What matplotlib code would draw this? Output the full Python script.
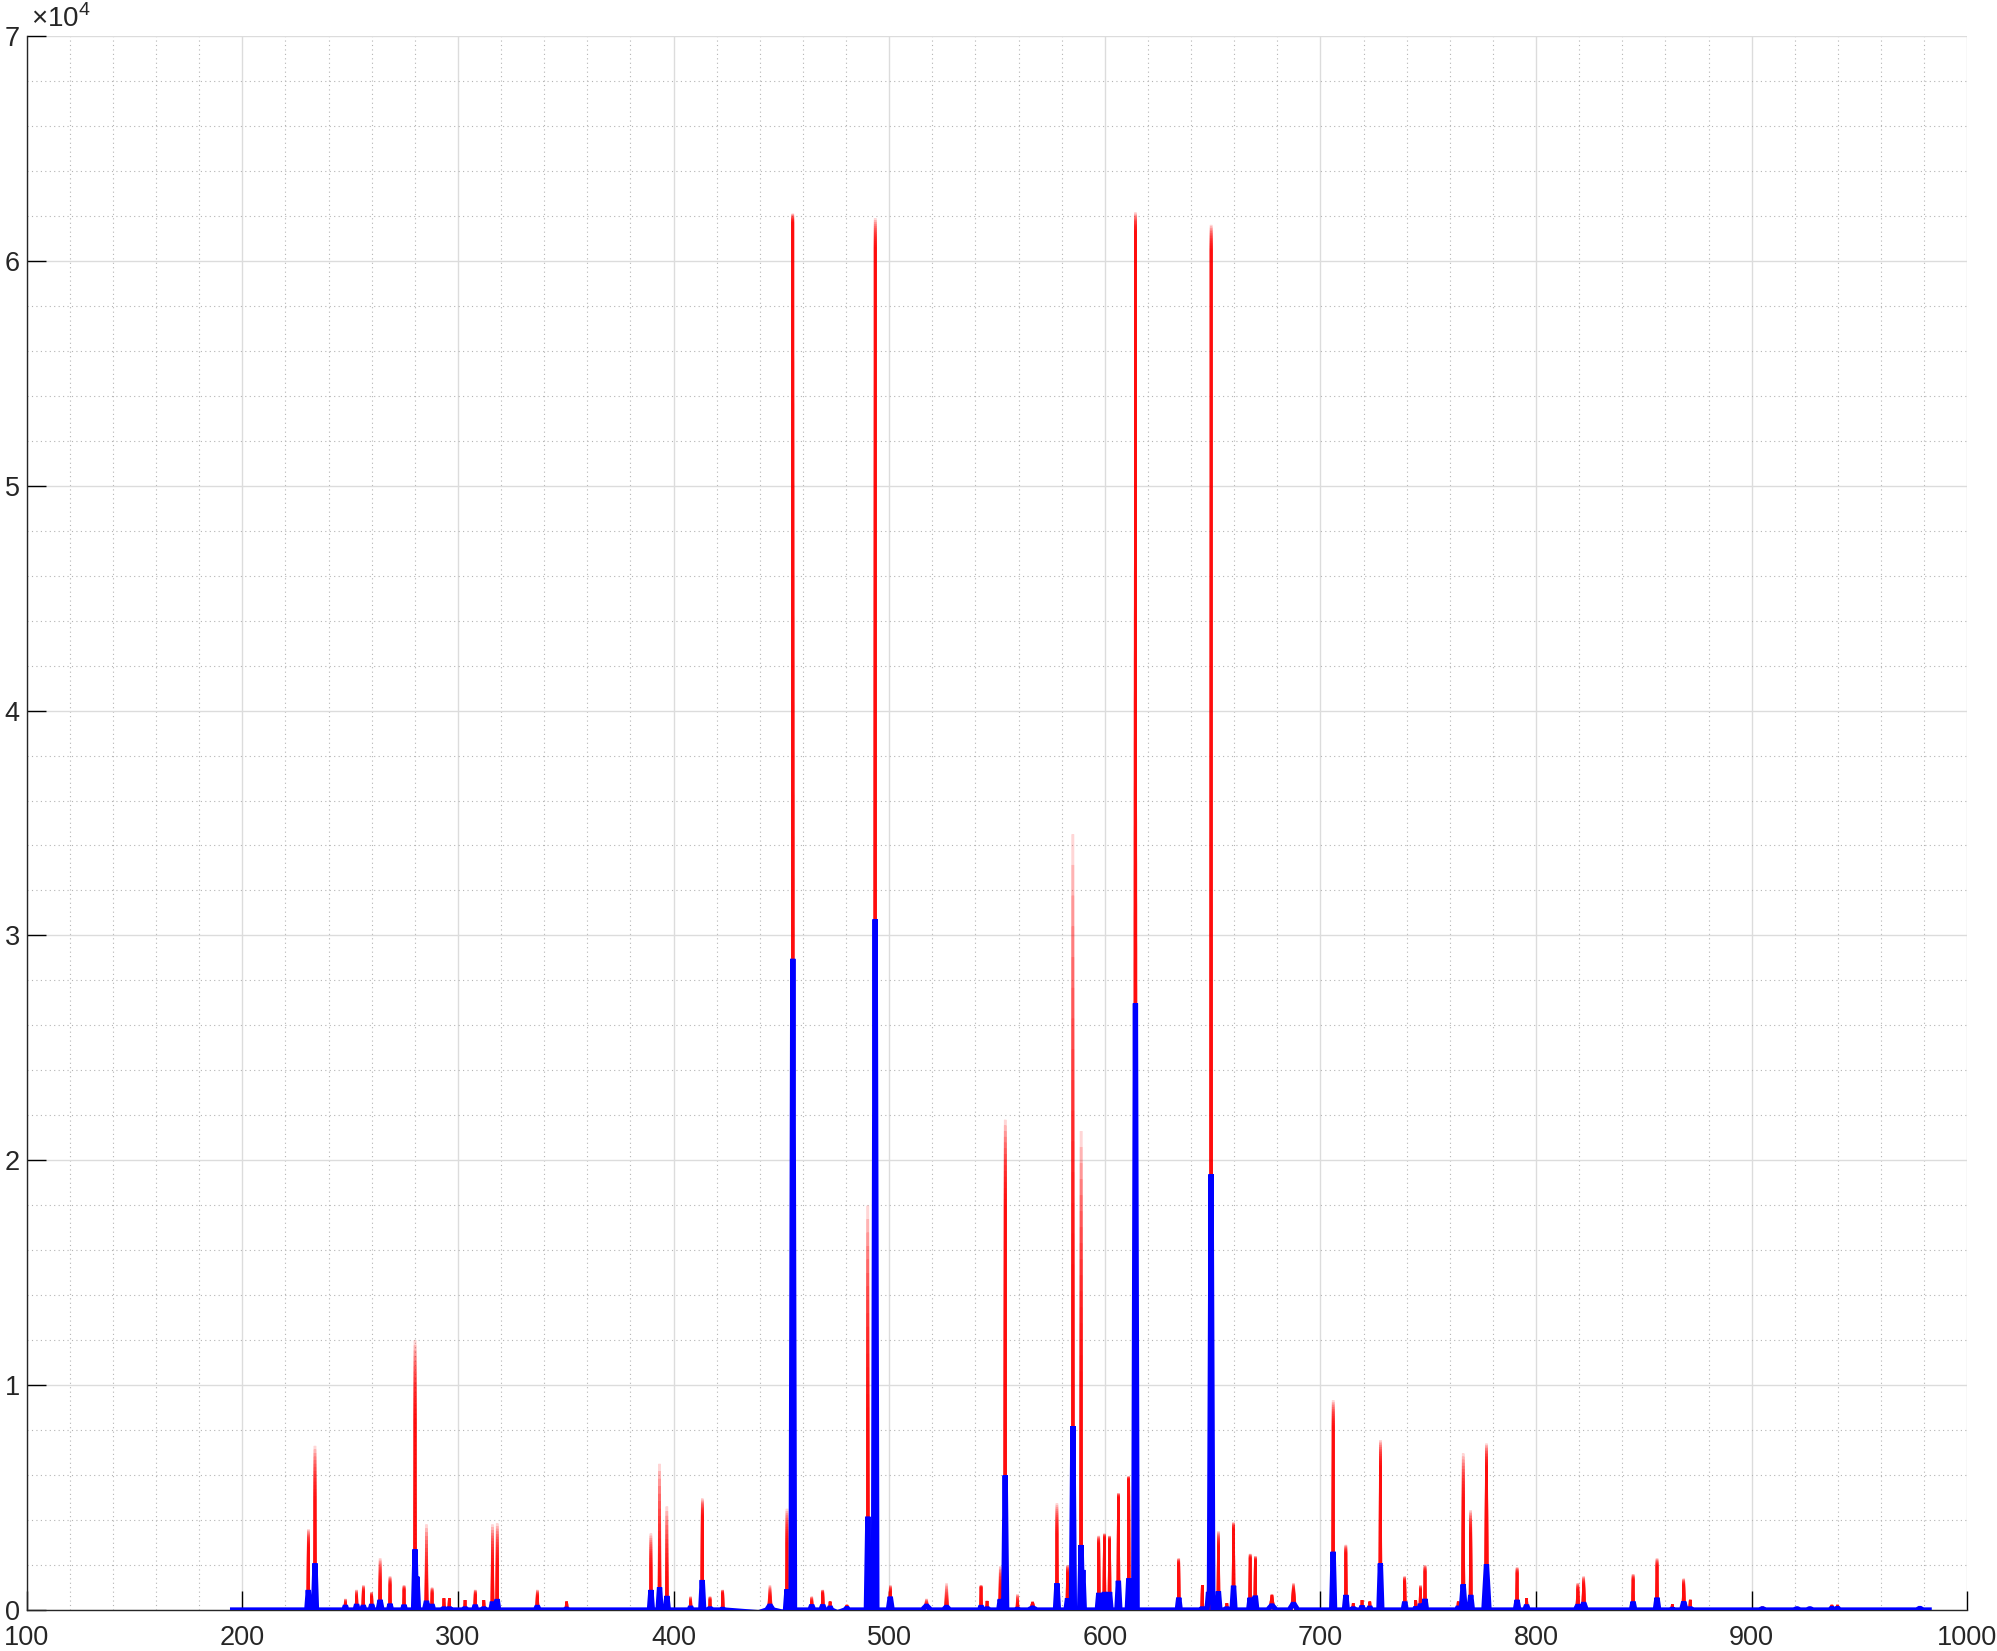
# Emission spectrum overlay: many shots (red) and the averaged spectrum (blue)
import numpy as np
import matplotlib
matplotlib.use('Agg')
import matplotlib.pyplot as plt
from matplotlib.ticker import MultipleLocator, FuncFormatter

plt.rcParams['font.family'] = ['Liberation Sans', 'DejaVu Sans']
plt.rcParams['mathtext.fontset'] = 'custom'
plt.rcParams['mathtext.rm'] = 'Liberation Sans'

# wavelength range covered by the spectrometer (nm)
wl_start = 195.5
wl_end = 982.3

# peak list: position (nm), averaged height, red band (solid part / faint tip), half-width (nm)
peak_nm = [230.6, 233.7, 247.8, 253.0, 256.1, 260.0, 263.9, 268.5, 275.0, 280.1,
           281.0, 285.4, 288.0, 293.5, 296.0, 303.3, 308.0, 312.0, 316.0, 318.2,
           336.8, 350.4, 389.5, 393.5, 396.9, 407.9, 413.3, 416.9, 422.8, 444.7,
           452.6, 455.3, 464.1, 469.2, 472.6, 480.4, 490.1, 493.5, 500.5, 517.3,
           526.6, 542.6, 545.4, 551.5, 553.8, 559.5, 566.5, 577.8, 582.7, 585.2,
           589.0, 589.8, 597.2, 599.8, 602.2, 606.3, 611.1, 614.2, 634.3, 645.2,
           648.1, 649.3, 652.7, 656.6, 659.7, 667.4, 669.8, 677.5, 687.5, 705.9,
           711.8, 715.2, 719.3, 722.9, 727.8, 739.1, 744.2, 746.4, 748.5, 763.9,
           766.2, 769.7, 777.0, 791.2, 795.6, 819.4, 822.1, 845.0, 856.1, 863.2,
           868.5, 871.5, 905.0, 921.0, 927.0, 937.2, 939.8, 978.0]
blue_peak = [889, 2074, 200, 250, 200, 250, 444, 270, 220, 2696,
             1481, 400, 250, 100, 100, 100, 222, 100, 370, 480,
             180, 50, 889, 1007, 622, 150, 1333, 100, 50, 220,
             919, 28960, 220, 220, 150, 100, 4150, 30720, 590, 200,
             150, 190, 100, 480, 5990, 50, 100, 1185, 519, 8180,
             2890, 1780, 760, 800, 800, 1300, 1400, 26980, 550, 100,
             800, 19380, 830, 100, 1081, 548, 637, 220, 300, 2590,
             667, 100, 180, 150, 2070, 370, 120, 270, 490, 150,
             1140, 667, 2030, 444, 220, 220, 326, 370, 548, 50,
             370, 100, 60, 60, 60, 100, 100, 80]
red_low = [2800, 4900, 300, 590, 810, 590, 1300, 1110, 890, 8500,
           1481, 1185, 740, 520, 520, 440, 670, 440, 1930, 2070,
           590, 370, 1930, 1500, 1500, 370, 4150, 440, 740, 590,
           3000, 61700, 370, 740, 370, 220, 9000, 60600, 820, 220,
           200, 1000, 400, 1000, 18000, 300, 350, 3400, 1630, 14000,
           10600, 1780, 2960, 3200, 3100, 5000, 5800, 61300, 2070, 1110,
           1500, 60500, 2810, 300, 3600, 2300, 2190, 670, 890, 8150,
           2520, 300, 440, 370, 6370, 1260, 440, 890, 1700, 370,
           4890, 3400, 6370, 1630, 520, 890, 1110, 1333, 1926, 250,
           1100, 450, 120, 100, 100, 220, 220, 80]
red_high = [3600, 7300, 500, 900, 1100, 800, 2300, 1500, 1100, 12000,
            1481, 3800, 1000, 520, 520, 440, 900, 440, 3800, 3850,
            900, 370, 3400, 6500, 4600, 600, 4960, 600, 900, 1110,
            4500, 62100, 600, 900, 370, 220, 17980, 61900, 1100, 500,
            1200, 1100, 400, 1950, 21800, 700, 350, 4740, 2000, 34500,
            21300, 1780, 3300, 3400, 3300, 5200, 5950, 62150, 2300, 1110,
            2000, 61600, 3500, 300, 3900, 2500, 2400, 670, 1200, 9330,
            2900, 300, 440, 370, 7560, 1500, 440, 1100, 2000, 370,
            6960, 4440, 7400, 1900, 520, 1200, 1500, 1600, 2300, 250,
            1400, 450, 120, 100, 100, 220, 220, 80]
peak_width = [0.7, 0.7, 0.7, 0.7, 0.7, 0.7, 0.9, 0.7, 0.7, 0.7,
              0.7, 0.9, 0.7, 0.7, 0.7, 0.7, 0.7, 0.7, 0.7, 0.7,
              0.9, 0.9, 0.7, 0.7, 0.7, 0.7, 0.7, 0.7, 0.7, 1.5,
              0.7, 0.8, 0.9, 0.9, 0.7, 0.9, 0.7, 0.8, 0.9, 2.0,
              1.5, 0.7, 0.7, 0.7, 0.7, 0.7, 2.0, 0.7, 0.7, 0.7,
              0.7, 0.7, 0.7, 0.7, 0.7, 0.7, 0.7, 0.8, 0.7, 0.7,
              0.7, 0.8, 0.7, 0.7, 0.7, 0.7, 0.7, 2.0, 2.0, 0.7,
              0.7, 0.7, 0.7, 0.7, 0.7, 0.7, 0.7, 0.7, 0.7, 0.7,
              0.9, 0.8, 1.2, 0.8, 0.8, 1.2, 1.2, 0.8, 0.8, 0.7,
              1.0, 0.7, 1.5, 1.5, 1.5, 1.0, 1.0, 1.5]

# stretches where the baseline sits slightly below zero
dip_start = [439.5, 476.0]
dip_end = [451.7, 491.3]
dip_depth = [-120, -120]


def envelope(xs, heights, width_scale=1.0):
    ys = np.zeros_like(xs)
    for a, b, d in zip(dip_start, dip_end, dip_depth):
        ys[(xs >= a) & (xs <= b)] = d
    for p, h, w in zip(peak_nm, heights, peak_width):
        w = w * width_scale
        ys = np.maximum(ys, h * (1 - np.abs(xs - p) / w))
    return ys


# vertices of the polyline: spectrum ends, dip edges, and each peak's foot/top
xs = [wl_start, wl_end] + dip_start + dip_end
for p, w in zip(peak_nm, peak_width):
    xs += [p - w, p - 0.45 * w, p, p + 0.45 * w, p + w]
xs = np.unique(np.clip(xs, wl_start, wl_end))

fig = plt.figure(figsize=(19.97, 16.51), dpi=100)
ax = fig.add_axes([0.01337, 0.02483, 0.97176, 0.95337])

# red: the individual shots; stacked translucent copies give the fading tips
lo = np.array(red_low, dtype=float)
hi = np.array(red_high, dtype=float)
n_shots = 16
for k in range(n_shots):
    hk = lo + (hi - lo) * k / (n_shots - 1)
    ax.plot(xs, envelope(xs, hk, 0.45), color=(1, 0, 0), lw=1.8, alpha=0.16,
            solid_joinstyle='bevel', zorder=2)

# blue: averaged spectrum
ax.plot(xs, envelope(xs, np.array(blue_peak, dtype=float)), color=(0, 0, 1),
        lw=3.8, solid_joinstyle='bevel', zorder=3)

ax.set_xlim(100, 1000)
ax.set_ylim(0, 70000)
ax.xaxis.set_major_locator(MultipleLocator(100))
ax.xaxis.set_minor_locator(MultipleLocator(20))
ax.yaxis.set_major_locator(MultipleLocator(10000))
ax.yaxis.set_minor_locator(MultipleLocator(2000))
ax.yaxis.set_major_formatter(FuncFormatter(lambda v, _: f'{v / 1e4:g}'))

ax.set_axisbelow(True)
ax.grid(which='major', color='#dcdcdc', lw=1.0, ls='-')
ax.grid(which='minor', color='#b4b4b4', lw=0.8, ls=(0, (1, 3)))

ax.tick_params(which='major', direction='in', length=13.5, width=1.0,
               labelsize=19.5, colors='black', labelcolor='#262626')
ax.tick_params(axis='x', which='major', pad=11)
ax.tick_params(axis='y', which='major', pad=5)
ax.tick_params(which='minor', length=0)

for side in ['top', 'right']:
    ax.spines[side].set_visible(False)
for side in ['left', 'bottom']:
    ax.spines[side].set_color('#262626')
    ax.spines[side].set_linewidth(1.0)

ax.text(0.002, 1.002, r'$\times10^{4}$', transform=ax.transAxes,
        ha='left', va='bottom', fontsize=20, color='#262626')

fig.savefig('out.png', dpi=100)
